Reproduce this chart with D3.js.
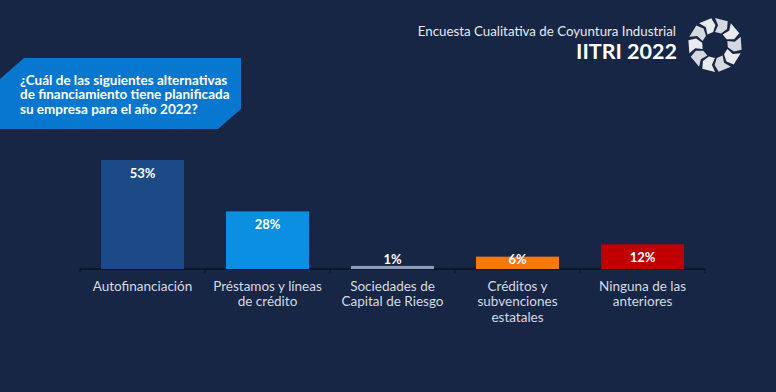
<!DOCTYPE html>
<html>
<head>
<meta charset="utf-8">
<title>IITRI 2022 - financiamiento</title>
<script src="https://d3js.org/d3.v7.min.js"></script>
<style>
  body { margin: 0; background: #172645; }
  svg { display: block; font-family: Lato, "Open Sans", sans-serif; }
</style>
</head>
<body>
<div id="chart"></div>
<script>
// data
var categories = ["Autofinanciación", "Préstamos y líneas de crédito", "Sociedades de Capital de Riesgo", "Créditos y subvenciones estatales", "Ninguna de las anteriores"];
var labelLines = [["Autofinanciación"], ["Préstamos y líneas", "de crédito"], ["Sociedades de", "Capital de Riesgo"], ["Créditos y", "subvenciones", "estatales"], ["Ninguna de las", "anteriores"]];
var values = [53, 28, 1, 6, 12];
var barColors = ["#1b4a86", "#0a8fe3", "#8d9cb8", "#f5780f", "#c00000"];
var questionLines = ["¿Cuál de las siguientes alternativas", "de financiamiento tiene planificada", "su empresa para el año 2022?"];

var width = 776, height = 392;

var svg = d3.select("#chart").append("svg")
    .attr("width", width)
    .attr("height", height);

svg.append("rect").attr("width", width).attr("height", height).attr("fill", "#172645");

// question box
svg.append("path")
    .attr("d", "M24,58 L241,58 L241,109 L218,129 L0,129 L0,79 Z")
    .attr("fill", "#0877d0");

svg.append("g").selectAll("text")
  .data(questionLines)
  .enter().append("text")
    .attr("x", 20)
    .attr("y", function(d, i) { return 84.5 + i * 14.5; })
    .attr("fill", "#ffffff")
    .style("font-size", "13.5px")
    .style("font-weight", "bold")
    .text(function(d) { return d; });

// header
svg.append("text")
    .attr("x", 676).attr("y", 36)
    .attr("text-anchor", "end")
    .attr("fill", "#e6e9ef")
    .style("font-size", "13.3px")
    .text("Encuesta Cualitativa de Coyuntura Industrial");

svg.append("text")
    .attr("x", 677).attr("y", 59)
    .attr("text-anchor", "end")
    .attr("fill", "#ffffff")
    .style("font-size", "21.5px")
    .style("font-weight", "bold")
    .text("IITRI 2022");

// logo: ring of arrow pieces
var logo = svg.append("g").attr("transform", "translate(715,45)");
var nPieces = 10, rIn = 13, rOut = 27, rMid = 20;
function pt(r, a) { return [r * Math.sin(a), -r * Math.cos(a)]; }
d3.range(nPieces).forEach(function(i) {
  var step = 2 * Math.PI / nPieces;
  var a0 = i * step, a1 = a0 + step * 0.78, d = step * 0.25;
  var pts = [pt(rOut, a0), pt(rOut, a1), pt(rMid, a1 + d), pt(rIn, a1), pt(rIn, a0), pt(rMid, a0 + d)];
  logo.append("path")
    .attr("d", "M" + pts.join("L") + "Z")
    .attr("fill", i % 2 ? "#e8eaee" : "#d4d8e0");
});

// chart
var x = d3.scaleBand()
    .domain(categories)
    .range([80, 705])
    .paddingInner(0.336)
    .paddingOuter(0.168);

var y = d3.scaleLinear()
    .domain([0, 53])
    .range([269, 160]);

var axis = svg.append("g")
    .attr("transform", "translate(0,269)");

axis.append("line")
    .attr("x1", 80).attr("x2", 705)
    .attr("stroke", "#0a1226").attr("stroke-width", 1.3);

var step = x.step();
axis.selectAll("line.tick")
  .data(d3.range(categories.length + 1))
  .enter().append("line")
    .attr("class", "tick")
    .attr("x1", function(i) { return 80 + i * step; })
    .attr("x2", function(i) { return 80 + i * step; })
    .attr("y1", 0).attr("y2", 4)
    .attr("stroke", "#0a1226");

svg.append("g").selectAll("rect")
  .data(values)
  .enter().append("rect")
    .attr("x", function(d, i) { return x(categories[i]); })
    .attr("width", x.bandwidth())
    .attr("y", function(d) { return y(d) - (d < 2 ? 1 : 0); })
    .attr("height", function(d) { return y(0) - y(d) + (d < 2 ? 1 : 0); })
    .attr("fill", function(d, i) { return barColors[i]; });

svg.append("g").selectAll("text")
  .data(values)
  .enter().append("text")
    .attr("x", function(d, i) { return x(categories[i]) + x.bandwidth() / 2; })
    .attr("y", function(d) { return Math.min(y(d) + 13, 259) + 4.5; })
    .attr("text-anchor", "middle")
    .attr("fill", "#ffffff")
    .style("font-size", "13px")
    .style("font-weight", "bold")
    .text(function(d) { return d + "%"; });

// category labels
var lab = svg.append("g").selectAll("g")
  .data(labelLines)
  .enter().append("g");

lab.selectAll("text")
  .data(function(d, i) { return d.map(function(s) { return {s: s, cat: categories[i]}; }); })
  .enter().append("text")
    .attr("x", function(d) { return x(d.cat) + x.bandwidth() / 2; })
    .attr("y", function(d, j) { return 290.5 + j * 15.8; })
    .attr("text-anchor", "middle")
    .attr("fill", "#d5d9e2")
    .style("font-size", "13.5px")
    .text(function(d) { return d.s; });
</script>
</body>
</html>
